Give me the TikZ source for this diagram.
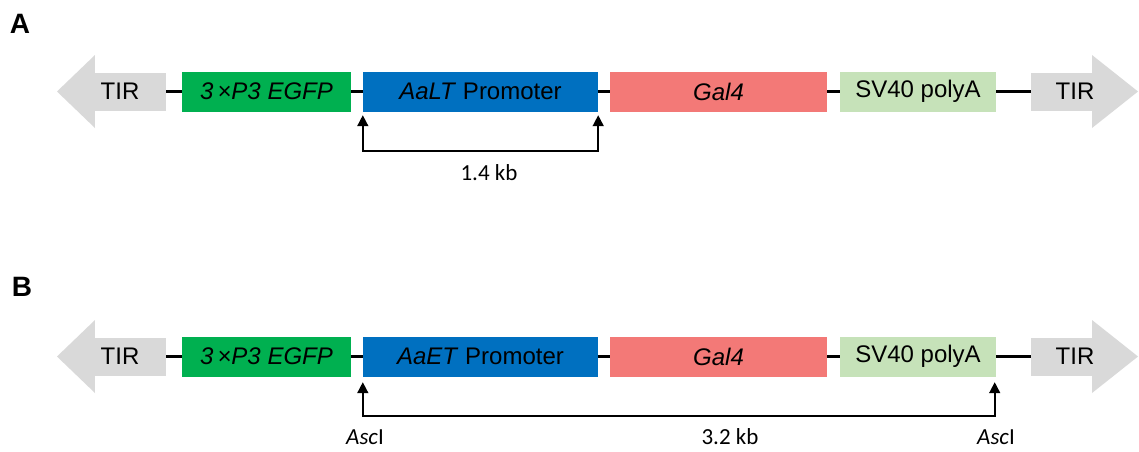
\documentclass[tikz,border=0pt]{standalone}
\usepackage{fontspec}
\setmainfont{Liberation Sans}
\newfontfamily\calfont{Carlito}
\usetikzlibrary{arrows.meta}
\definecolor{tirgray}{RGB}{217,217,217}
\definecolor{egfp}{RGB}{0,176,80}
\definecolor{prom}{RGB}{0,112,192}
\definecolor{galred}{RGB}{243,121,119}
\definecolor{polyg}{RGB}{198,226,185}
\begin{document}
\begin{tikzpicture}[x=1pt,y=-1pt,
  box/.style={minimum height=40pt, inner sep=0pt, font=\fontsize{24}{28}\selectfont, text=black},
  tirbody/.style={fill=tirgray, minimum height=38pt, inner sep=0pt},
  tirtext/.style={font=\fontsize{24}{28}\selectfont, text=black, inner sep=0pt},
  link/.style={line width=2.4pt},
  measure/.style={line width=1.6pt, {Triangle[width=11pt,length=11pt]}-{Triangle[width=11pt,length=11pt]}},
  note/.style={font=\calfont\fontsize{23}{27}\selectfont, inner sep=0pt},
  panel/.style={font=\bfseries\fontsize{28}{32}\selectfont, inner sep=0pt}]
\useasboundingbox (0,0) rectangle (1139,451);
\fill[white] (0,0) rectangle (1139,451);

\node[panel] (labA) at (20,24) {A};
\node[panel] (labB) at (22,287) {B};

\foreach \r/\cy/\pname in {A/91.5/AaLT, B/356.5/AaET}{
  % left TIR
  \node[tirbody, minimum width=71pt] (tirL\r) at (130.5,\cy) {};
  \fill[tirgray] (tirL\r.north west) -- (95,{\cy-36.5}) -- (57,\cy) -- (95,{\cy+36.5}) -- (tirL\r.south west) -- cycle;
  \node[tirtext] (tirLt\r) at (120,\cy) {TIR};
  % boxes
  \node[box, fill=egfp, minimum width=169pt] (green\r) at (266.5,\cy) {\itshape 3\,×P3 EGFP};
  \node[box, fill=prom, minimum width=235pt] (prom\r) at (480.5,\cy) {\textit{\pname} Promoter};
  \node[box, fill=galred, minimum width=217pt] (gal\r) at (718.5,\cy) {\itshape Gal4};
  \node[box, fill=polyg, minimum width=156pt] (poly\r) at (918,\cy) {SV40 polyA};
  % right TIR
  \node[tirbody, minimum width=61pt] (tirR\r) at (1061.5,\cy) {};
  \fill[tirgray] (tirR\r.north east) -- (1092,{\cy-36.5}) -- (1138,\cy) -- (1092,{\cy+36.5}) -- (tirR\r.south east) -- cycle;
  \node[tirtext] (tirRt\r) at (1075,\cy) {TIR};
  % links
  \draw[link] (tirL\r.east) -- (green\r.west);
  \draw[link] (green\r.east) -- (prom\r.west);
  \draw[link] (prom\r.east) -- (gal\r.west);
  \draw[link] (gal\r.east) -- (poly\r.west);
  \draw[link] (poly\r.east) -- (tirR\r.west);
}

% measurement A
\coordinate (baseA) at (0,151);
\draw[measure] ([yshift=-3.5pt]promA.south west) -- (promA.south west |- baseA) -- (promA.south east |- baseA) -- ([yshift=-3.5pt]promA.south east);
\node[note] (kbA) at (489,173) {1.4 kb};

% measurement B
\coordinate (baseB) at (0,416);
\coordinate (ascR) at ([xshift=-1.5pt,yshift=-5.5pt]polyB.south east);
\draw[measure] ([yshift=-5.5pt]promB.south west) -- (promB.south west |- baseB) -- (ascR |- baseB) -- (ascR);
\node[note] (ascLB) at (365,437) {\textit{Asc}I};
\node[note] (kbB) at (730,437) {3.2 kb};
\node[note] (ascRB) at (996,437) {\textit{Asc}I};
\end{tikzpicture}
\end{document}
